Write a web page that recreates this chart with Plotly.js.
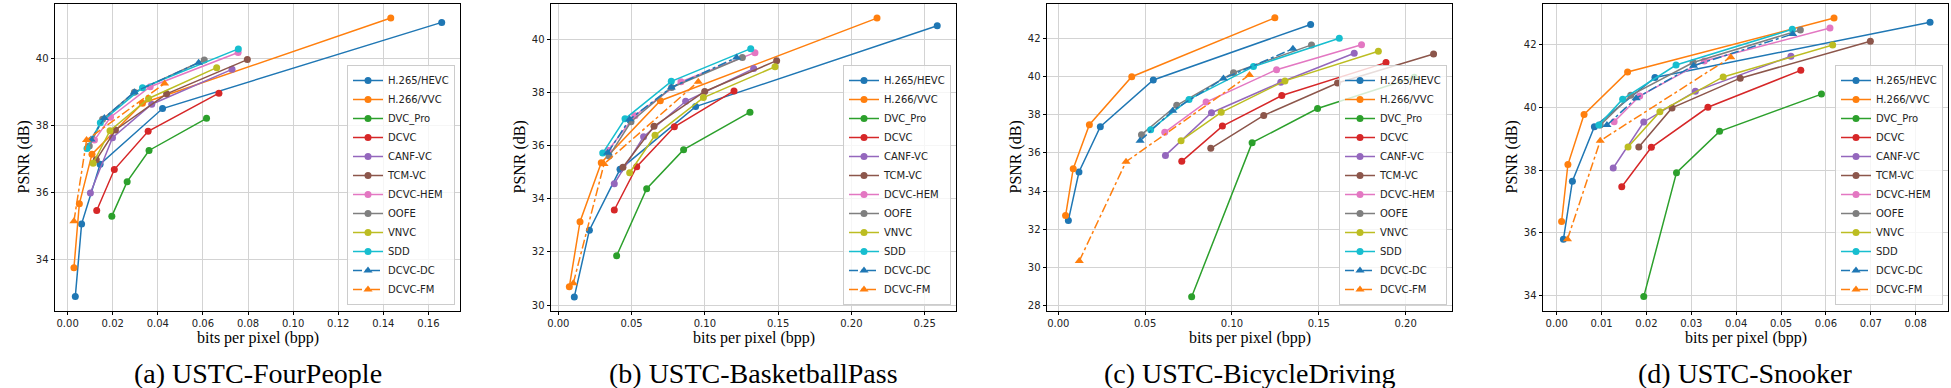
<!DOCTYPE html>
<html>
<head>
<meta charset="utf-8">
<script src="https://cdn.plot.ly/plotly-3.0.1.min.js"></script>
<style>
html, body { margin: 0; padding: 0; background: #ffffff; }
#chart { width: 1951px; height: 388px; }
</style>
</head>
<body>
<div id="chart"></div>
<script>
var methods = ['H.265/HEVC', 'H.266/VVC', 'DVC_Pro', 'DCVC', 'CANF-VC', 'TCM-VC',
    'DCVC-HEM', 'OOFE', 'VNVC', 'SDD', 'DCVC-DC', 'DCVC-FM'];

// (a) USTC-FourPeople
var fourPeopleBpp = [
    [0.0034, 0.0062, 0.0144, 0.0421, 0.1659],
    [0.0028, 0.0052, 0.0108, 0.0332, 0.1433],
    [0.0196, 0.0264, 0.0361, 0.0616],
    [0.0129, 0.0207, 0.0357, 0.0671],
    [0.0101, 0.0199, 0.0373, 0.0729],
    [0.0127, 0.0212, 0.0439, 0.0797],
    [0.0119, 0.0190, 0.0366, 0.0756],
    [0.0096, 0.0155, 0.0296, 0.0606],
    [0.0113, 0.0188, 0.0359, 0.0661],
    [0.0086, 0.0145, 0.0332, 0.0757],
    [0.0104, 0.0163, 0.0296, 0.0581],
    [0.0028, 0.0084, 0.0430]
];
var fourPeoplePsnr = [
    [32.89, 35.06, 36.84, 38.50, 41.07],
    [33.75, 35.66, 37.14, 38.66, 41.20],
    [35.29, 36.32, 37.25, 38.21],
    [35.46, 36.68, 37.82, 38.96],
    [35.98, 37.63, 38.63, 39.67],
    [36.97, 37.86, 38.94, 39.96],
    [37.56, 38.24, 39.15, 40.17],
    [37.38, 38.18, 38.99, 39.95],
    [36.87, 37.84, 38.80, 39.72],
    [37.31, 38.08, 39.12, 40.28],
    [37.58, 38.22, 38.99, 39.87],
    [35.14, 37.56, 39.25]
];

// (b) USTC-BasketballPass
var basketballBpp = [
    [0.0109, 0.0212, 0.0421, 0.0937, 0.2586],
    [0.0075, 0.0148, 0.0293, 0.0696, 0.2175],
    [0.0398, 0.0603, 0.0855, 0.1308],
    [0.0382, 0.0535, 0.0792, 0.1199],
    [0.0382, 0.0582, 0.0869, 0.1333],
    [0.0441, 0.0653, 0.0999, 0.1490],
    [0.0341, 0.0523, 0.0837, 0.1342],
    [0.0346, 0.0496, 0.0773, 0.1256],
    [0.0487, 0.0660, 0.0990, 0.1479],
    [0.0303, 0.0455, 0.0771, 0.1313],
    [0.0337, 0.0487, 0.0771, 0.1217],
    [0.0102, 0.0312, 0.0955]
];
var basketballPsnr = [
    [30.31, 32.82, 35.11, 37.47, 40.51],
    [30.69, 33.14, 35.36, 37.69, 40.80],
    [31.86, 34.38, 35.85, 37.26],
    [33.58, 35.21, 36.71, 38.06],
    [34.57, 36.34, 37.67, 38.90],
    [35.19, 36.73, 38.04, 39.20],
    [35.83, 37.13, 38.41, 39.50],
    [35.61, 36.90, 38.19, 39.32],
    [34.98, 36.39, 37.81, 38.97],
    [35.72, 37.01, 38.42, 39.65],
    [35.73, 36.99, 38.19, 39.32],
    [30.82, 35.31, 38.41]
];

// (c) USTC-BicycleDriving
var bicycleBpp = [
    [0.0058, 0.0119, 0.0242, 0.0547, 0.1453],
    [0.0042, 0.0086, 0.0179, 0.0423, 0.1247],
    [0.0768, 0.1116, 0.1493, 0.2050],
    [0.0711, 0.0945, 0.1287, 0.1887],
    [0.0617, 0.0882, 0.1281, 0.1704],
    [0.0878, 0.1183, 0.1608, 0.2161],
    [0.0613, 0.0851, 0.1257, 0.1746],
    [0.0479, 0.0682, 0.1009, 0.1458],
    [0.0707, 0.0938, 0.1305, 0.1843],
    [0.0532, 0.0753, 0.1124, 0.1618],
    [0.0471, 0.0659, 0.0951, 0.1351],
    [0.0121, 0.0390, 0.1101]
];
var bicyclePsnr = [
    [32.46, 35.00, 37.38, 39.83, 42.74],
    [32.71, 35.17, 37.48, 40.00, 43.09],
    [28.45, 36.54, 38.33, 39.97],
    [35.56, 37.41, 39.01, 40.74],
    [35.87, 38.11, 39.71, 41.23],
    [36.24, 37.97, 39.67, 41.19],
    [37.08, 38.67, 40.37, 41.68],
    [36.96, 38.50, 40.21, 41.67],
    [36.64, 38.13, 39.78, 41.34],
    [37.22, 38.81, 40.53, 42.02],
    [36.64, 38.22, 39.90, 41.47],
    [30.33, 35.54, 40.09]
];

// (d) USTC-Snooker
var snookerBpp = [
    [0.0015, 0.0035, 0.0084, 0.0219, 0.0832],
    [0.0011, 0.0025, 0.0061, 0.0158, 0.0618],
    [0.0194, 0.0267, 0.0363, 0.0590],
    [0.0145, 0.0211, 0.0337, 0.0544],
    [0.0126, 0.0194, 0.0309, 0.0522],
    [0.0183, 0.0257, 0.0409, 0.0699],
    [0.0128, 0.0185, 0.0329, 0.0609],
    [0.0097, 0.0165, 0.0304, 0.0543],
    [0.0159, 0.0230, 0.0371, 0.0615],
    [0.0094, 0.0147, 0.0266, 0.0525],
    [0.0112, 0.0177, 0.0305, 0.0526],
    [0.0024, 0.0097, 0.0388]
];
var snookerPsnr = [
    [35.79, 37.65, 39.39, 40.96, 42.73],
    [36.36, 38.18, 39.78, 41.14, 42.86],
    [33.96, 37.92, 39.24, 40.43],
    [37.47, 38.73, 40.01, 41.19],
    [38.07, 39.54, 40.52, 41.64],
    [38.74, 39.99, 40.94, 42.12],
    [39.55, 40.37, 41.49, 42.54],
    [39.44, 40.39, 41.44, 42.48],
    [38.74, 39.87, 40.98, 42.00],
    [39.44, 40.27, 41.36, 42.50],
    [39.44, 40.30, 41.34, 42.35],
    [35.79, 38.94, 41.61]
];

var captions = ['(a) USTC-FourPeople', '(b) USTC-BasketballPass', '(c) USTC-BicycleDriving', '(d) USTC-Snooker'];

(function () {
    var W = 1951, H = 388;
    var colors = ['#1f77b4', '#ff7f0e', '#2ca02c', '#d62728', '#9467bd', '#8c564b',
        '#e377c2', '#7f7f7f', '#bcbd22', '#17becf', '#1f77b4', '#ff7f0e'];
    var sans = 'DejaVu Sans, sans-serif';
    var serif = 'Liberation Serif, Times New Roman, serif';

    var panels = [
        { bpp: fourPeopleBpp, psnr: fourPeoplePsnr, left: 55, xr: [-0.0056, 0.174], yr: [32.47, 41.61], dx: 0.02 },
        { bpp: basketballBpp, psnr: basketballPsnr, left: 551, xr: [-0.0050, 0.2714], yr: [29.79, 41.32], dx: 0.05 },
        { bpp: bicycleBpp, psnr: bicyclePsnr, left: 1047, xr: [-0.0065, 0.2267], yr: [27.72, 43.80], dx: 0.05 },
        { bpp: snookerBpp, psnr: snookerPsnr, left: 1543, xr: [-0.00305, 0.0872], yr: [33.51, 43.30], dx: 0.01 }
    ];
    var plotW = 405, plotTop = 4.3, plotBottom = 310.7;

    var data = [];
    var layout = {
        width: W,
        height: H,
        margin: { l: 0, r: 0, t: 0, b: 0 },
        paper_bgcolor: '#ffffff',
        plot_bgcolor: '#ffffff',
        showlegend: true,
        annotations: [],
        font: { family: sans, size: 10, color: '#222222' }
    };

    panels.forEach(function (p, i) {
        var suffix = i ? String(i + 1) : '';
        var legendId = 'legend' + suffix;

        methods.forEach(function (name, m) {
            var isTri = m >= 10;
            data.push({
                type: 'scatter',
                mode: 'lines+markers',
                name: name,
                x: p.bpp[m],
                y: p.psnr[m],
                xaxis: 'x' + suffix,
                yaxis: 'y' + suffix,
                legend: legendId,
                line: { color: colors[m], width: 1.5, dash: isTri ? 'dashdot' : 'solid' },
                marker: {
                    color: colors[m],
                    size: isTri ? 8 : 7,
                    symbol: isTri ? 'triangle-up' : 'circle',
                    line: { width: 0 }
                },
                hovertemplate: name + '<br>%{x:.4f} bpp<br>%{y:.2f} dB<extra></extra>'
            });
        });

        var axisStyle = {
            showline: true,
            mirror: true,
            linecolor: '#000000',
            linewidth: 1,
            ticks: 'outside',
            ticklen: 3.5,
            tickwidth: 1,
            tickcolor: '#000000',
            showgrid: true,
            gridcolor: '#d3d3d3',
            gridwidth: 1,
            zeroline: false,
            tickfont: { family: sans, size: 10, color: '#222222' }
        };

        layout['xaxis' + suffix] = Object.assign({}, axisStyle, {
            domain: [p.left / W, (p.left + plotW) / W],
            anchor: 'y' + suffix,
            range: p.xr,
            tick0: 0,
            dtick: p.dx,
            tickformat: '.2f'
        });
        layout['yaxis' + suffix] = Object.assign({}, axisStyle, {
            domain: [1 - plotBottom / H, 1 - plotTop / H],
            anchor: 'x' + suffix,
            range: p.yr,
            tick0: 0,
            dtick: 2,
            tickformat: 'd'
        });

        layout[legendId] = {
            x: (p.left + plotW - 5) / W,
            y: 1 - 305 / H,
            xanchor: 'right',
            yanchor: 'bottom',
            bgcolor: 'rgba(255,255,255,0.8)',
            bordercolor: '#cccccc',
            borderwidth: 1,
            itemwidth: 30,
            font: { family: sans, size: 10, color: '#222222' }
        };

        var cx = (p.left + plotW / 2) / W;
        layout.annotations.push({
            xref: 'paper', yref: 'paper',
            x: cx, y: 1 - 338 / H,
            xanchor: 'center', yanchor: 'middle',
            showarrow: false,
            text: 'bits per pixel (bpp)',
            font: { family: serif, size: 16, color: '#000000' }
        });
        layout.annotations.push({
            xref: 'paper', yref: 'paper',
            x: (p.left - 32) / W, y: 1 - (plotTop + plotBottom) / 2 / H,
            xanchor: 'center', yanchor: 'middle',
            showarrow: false,
            textangle: -90,
            text: 'PSNR (dB)',
            font: { family: serif, size: 16, color: '#000000' }
        });
        layout.annotations.push({
            xref: 'paper', yref: 'paper',
            x: cx, y: 1 - 373 / H,
            xanchor: 'center', yanchor: 'middle',
            showarrow: false,
            text: captions[i],
            font: { family: serif, size: 28, color: '#000000' }
        });
    });

    Plotly.newPlot('chart', data, layout, { displayModeBar: false, staticPlot: true });
})();
</script>
</body>
</html>
